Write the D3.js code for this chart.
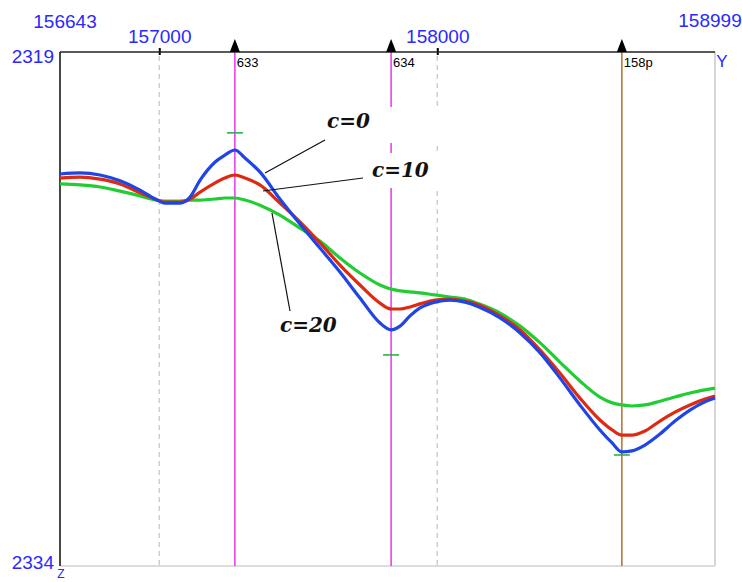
<!DOCTYPE html>
<html>
<head>
<meta charset="utf-8">
<script src="https://cdn.jsdelivr.net/npm/d3@7"></script>
<style>
  body { margin: 0; background: #fff; }
  svg { display: block; }
</style>
</head>
<body>
<div id="chart"></div>
<script>
// DATA
var stations = [156643, 156715, 156787, 156859, 156931, 156985, 157021, 157075, 157111, 157147,
                157201, 157236, 157272, 157308, 157362, 157434, 157506, 157578, 157650, 157722,
                157794, 157834, 157866, 157902, 157938, 157992, 158046, 158100, 158150, 158226,
                158298, 158370, 158441, 158513, 158585, 158629, 158664, 158700, 158747, 158801,
                158855, 158909, 158963, 158999];

var elevC0 = [2322.56, 2322.53, 2322.59, 2322.76, 2323.03, 2323.29, 2323.41, 2323.41, 2323.23, 2322.74,
              2322.21, 2322.01, 2321.86, 2322.09, 2322.50, 2323.29, 2324.02, 2324.72, 2325.42, 2326.18,
              2326.91, 2327.11, 2327.00, 2326.70, 2326.47, 2326.30, 2326.24, 2326.30, 2326.44, 2326.76,
              2327.20, 2327.78, 2328.51, 2329.30, 2330.03, 2330.41, 2330.67, 2330.64, 2330.47, 2330.15,
              2329.77, 2329.45, 2329.21, 2329.10];

var elevC10 = [2322.68, 2322.65, 2322.71, 2322.85, 2323.11, 2323.29, 2323.38, 2323.38, 2323.29, 2323.09,
               2322.82, 2322.68, 2322.59, 2322.68, 2322.88, 2323.41, 2323.96, 2324.57, 2325.22, 2325.80,
               2326.33, 2326.50, 2326.50, 2326.44, 2326.35, 2326.24, 2326.21, 2326.27, 2326.38, 2326.70,
               2327.11, 2327.70, 2328.37, 2329.10, 2329.74, 2330.03, 2330.18, 2330.18, 2330.06, 2329.77,
               2329.51, 2329.30, 2329.13, 2329.04];

var elevC20 = [2322.85, 2322.88, 2322.94, 2323.06, 2323.20, 2323.32, 2323.35, 2323.35, 2323.32, 2323.32,
               2323.29, 2323.26, 2323.26, 2323.32, 2323.47, 2323.76, 2324.14, 2324.52, 2325.01, 2325.45,
               2325.80, 2325.92, 2325.97, 2326.00, 2326.03, 2326.09, 2326.15, 2326.21, 2326.35, 2326.62,
               2327.00, 2327.49, 2328.05, 2328.60, 2329.07, 2329.24, 2329.30, 2329.33, 2329.30, 2329.19,
               2329.07, 2328.95, 2328.86, 2328.81];

// VERTICAL STAKE LINES
var stakeStations = [157272, 157834, 158664];
var stakeLabels = ["633", "634", "158p"];

// GREEN MARKS AT THE EXTREMES
var markStations = [157272, 157834, 158664];
var markElev = [2321.36, 2327.84, 2330.76];

// AXIS TICKS
var xTicks = [157000, 158000];
var xDomain = [156643, 158999];
var yDomain = [2319, 2334];

// LAYOUT
var margin = {top: 52, right: 27, bottom: 16, left: 60},
    width = 742 - margin.left - margin.right,
    height = 582 - margin.top - margin.bottom;

var blue = "#2a2aff";

var svgRoot = d3.select("#chart")
  .append("svg")
    .attr("width", 742)
    .attr("height", 582);

var svg = svgRoot.append("g")
    .attr("transform", "translate(" + margin.left + "," + margin.top + ")");

// SCALES
var x = d3.scaleLinear().domain(xDomain).range([0, width]);
var y = d3.scaleLinear().domain(yDomain).range([0, height]);

// GRID LINES (DASHED)
svg.selectAll(".grid")
  .data(xTicks)
  .enter()
  .append("line")
    .attr("x1", function(d) { return x(d); })
    .attr("x2", function(d) { return x(d); })
    .attr("y1", 4)
    .attr("y2", height)
    .style("stroke", "#c8c8c8")
    .style("stroke-width", 1.3)
    .style("stroke-dasharray", "5,4");

// FRAME
svg.append("line").attr("x1", width).attr("x2", width).attr("y1", 0).attr("y2", height)
    .style("stroke", "#c8c8c8").style("stroke-width", 1.5);
svg.append("line").attr("x1", 0).attr("x2", width).attr("y1", height).attr("y2", height)
    .style("stroke", "#d0d0d0").style("stroke-width", 1.5);
svg.append("line").attr("x1", 0).attr("x2", 0).attr("y1", 0).attr("y2", height)
    .style("stroke", "#333").style("stroke-width", 1.8);

// STAKE LINES
var stakeColor = ["#ee33ee", "#ee33ee", "#b0702a"];
svg.selectAll(".stake")
  .data(stakeStations)
  .enter()
  .append("line")
    .attr("x1", function(d) { return x(d); })
    .attr("x2", function(d) { return x(d); })
    .attr("y1", 0)
    .attr("y2", height)
    .style("stroke", function(d, i) { return stakeColor[i]; })
    .style("stroke-width", 1.5);

// TOP AXIS
var topAxis = svg.append("g")
    .call(d3.axisTop(x).tickValues(xTicks).tickSize(4).tickPadding(5).tickFormat(d3.format("d")));
topAxis.select(".domain").remove();
topAxis.selectAll("line").attr("y2", -4).attr("y1", 3).style("stroke", "#000").style("stroke-width", 2);
topAxis.selectAll("text")
    .style("font-family", "Liberation Sans, Arial, sans-serif")
    .style("font-size", "19px")
    .style("fill", blue);

svg.append("line").attr("x1", 0).attr("x2", width).attr("y1", 0).attr("y2", 0)
    .style("stroke", "#222").style("stroke-width", 1.5);

// STAKE TRIANGLES AND LABELS
svg.selectAll(".tri")
  .data(stakeStations)
  .enter()
  .append("path")
    .attr("d", function(d) {
      var px = x(d);
      return "M" + (px - 5) + ",0 L" + (px - 2) + ",-8 L" + px + ",-13 L" + (px + 2) + ",-8 L" + (px + 5) + ",0 Z";
    })
    .style("fill", "#000");

svg.selectAll(".stakeLabel")
  .data(stakeStations)
  .enter()
  .append("text")
    .attr("x", function(d) { return x(d) + 2; })
    .attr("y", 15)
    .text(function(d, i) { return stakeLabels[i]; })
    .style("font-family", "Liberation Sans, Arial, sans-serif")
    .style("font-size", "13px")
    .style("fill", "#000");

// CORNER LABELS
function cornerText(tx, ty, str, anchor, size) {
  svgRoot.append("text")
    .attr("x", tx)
    .attr("y", ty)
    .attr("text-anchor", anchor)
    .text(str)
    .style("font-family", "Liberation Sans, Arial, sans-serif")
    .style("font-size", size + "px")
    .style("fill", blue);
}
cornerText(margin.left + x(xDomain[0]) + 5, 28, xDomain[0], "middle", 19);
cornerText(margin.left + x(xDomain[1]) - 5, 27, xDomain[1], "middle", 19);
cornerText(margin.left - 6, margin.top + y(yDomain[0]) + 11, yDomain[0], "end", 19);
cornerText(margin.left - 6, margin.top + y(yDomain[1]) + 3, yDomain[1], "end", 19);
cornerText(margin.left + width + 7, 67, "Y", "middle", 17);
cornerText(margin.left + 1, 578, "Z", "middle", 12);

// LABEL BACKGROUNDS (HIDE LINES BEHIND THE TEXT)
svg.append("rect").attr("x", 262).attr("y", 55).attr("width", 125).attr("height", 36).style("fill", "#fff");
svg.append("rect").attr("x", 305).attr("y", 101).attr("width", 82).attr("height", 35).style("fill", "#fff");

// CURVES
var line = d3.line()
    .x(function(d, i) { return x(stations[i]); })
    .y(function(d) { return y(d); })
    .curve(d3.curveMonotoneX);

var series = [
  {name: "c=20", values: elevC20, color: "#22cc33"},
  {name: "c=10", values: elevC10, color: "#dd2a10"},
  {name: "c=0",  values: elevC0,  color: "#1f45e6"}
];

svg.selectAll(".curve")
  .data(series)
  .enter()
  .append("path")
    .attr("d", function(d) { return line(d.values); })
    .style("fill", "none")
    .style("stroke", function(d) { return d.color; })
    .style("stroke-width", 3.2)
    .style("stroke-linejoin", "round");

// GREEN MARKS
svg.selectAll(".mark")
  .data(markStations)
  .enter()
  .append("line")
    .attr("x1", function(d) { return x(d) - 8; })
    .attr("x2", function(d) { return x(d) + 8; })
    .attr("y1", function(d, i) { return y(markElev[i]); })
    .attr("y2", function(d, i) { return y(markElev[i]); })
    .style("stroke", "#22aa44")
    .style("stroke-width", 1.5);

// ANNOTATIONS
var notes = [
  {text: "c=0",  tx: 267, ty: 76,  x1: 265, y1: 88,  x2: 205, y2: 121},
  {text: "c=10", tx: 312, ty: 125, x1: 303, y1: 126, x2: 203, y2: 139},
  {text: "c=20", tx: 220, ty: 280, x1: 230, y1: 259, x2: 212, y2: 161}
];

svg.selectAll(".leader")
  .data(notes)
  .enter()
  .append("line")
    .attr("x1", function(d) { return d.x1; })
    .attr("y1", function(d) { return d.y1; })
    .attr("x2", function(d) { return d.x2; })
    .attr("y2", function(d) { return d.y2; })
    .style("stroke", "#111")
    .style("stroke-width", 1.2);

svg.selectAll(".note")
  .data(notes)
  .enter()
  .append("text")
    .attr("x", function(d) { return d.tx; })
    .attr("y", function(d) { return d.ty; })
    .text(function(d) { return d.text; })
    .style("font-family", "DejaVu Serif, serif")
    .style("font-weight", "bold")
    .style("font-style", "italic")
    .style("font-size", "20px")
    .style("fill", "#111");
</script>
</body>
</html>
